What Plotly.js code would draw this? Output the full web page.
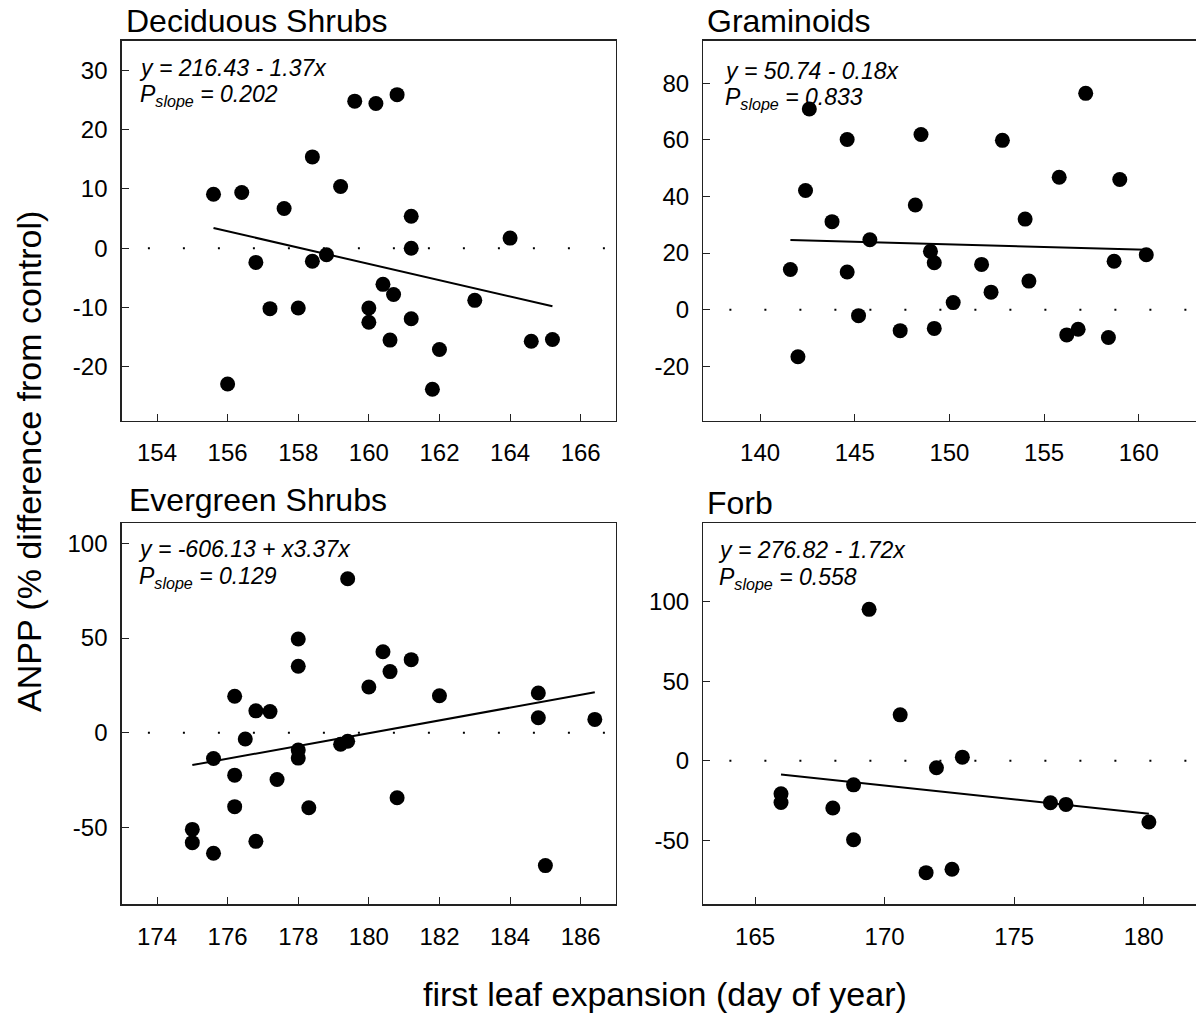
<!DOCTYPE html>
<html>
<head>
<meta charset="utf-8">
<script src="https://cdn.plot.ly/plotly-3.0.1.min.js"></script>
<style>html,body{margin:0;padding:0;background:#fff;}#chart{width:1196px;height:1016px;}</style>
</head>
<body>
<div id="chart"></div>
<script>
// ---- Data ----
const panelTitles = ["Deciduous Shrubs", "Graminoids", "Evergreen Shrubs", "Forb"];
const eqLines = ["y = 216.43 - 1.37x", "y = 50.74 - 0.18x", "y = -606.13 + x3.37x", "y = 276.82 - 1.72x"];
const pSlope = ["0.202", "0.833", "0.129", "0.558"];

const decidX = [155.6, 156.4, 156.0, 156.8, 157.2, 157.6, 158.0, 158.4, 158.4, 158.8, 159.2, 159.6, 160.2, 160.8, 161.2, 161.2, 164.0, 160.4, 160.7, 160.0, 160.0, 161.2, 160.6, 162.0, 161.8, 163.0, 164.6, 165.2];
const decidY = [9.1, 9.4, -22.9, -2.4, -10.2, 6.7, -10.1, 15.4, -2.2, -1.1, 10.4, 24.8, 24.4, 25.9, 5.4, 0.0, 1.7, -6.1, -7.8, -10.1, -12.5, -11.9, -15.5, -17.1, -23.8, -8.8, -15.7, -15.4];
const decidFitX = [155.6, 165.2];
const decidFitY = [3.4, -9.8];

const gramX = [142.6, 144.6, 142.4, 143.8, 145.8, 141.6, 144.6, 145.2, 142.0, 147.4, 148.5, 148.2, 149.0, 149.2, 149.2, 150.2, 151.7, 152.2, 152.8, 154.0, 154.2, 155.8, 157.2, 159.0, 156.2, 156.8, 158.4, 158.7, 160.4];
const gramY = [70.9, 60.1, 42.1, 31.1, 24.7, 14.2, 13.3, -2.1, -16.6, -7.4, 61.9, 37.0, 20.6, 16.6, -6.6, 2.5, 16.0, 6.2, 59.8, 32.0, 10.1, 46.8, 76.4, 46.0, -8.9, -6.9, -9.8, 17.1, 19.4];
const gramFitX = [141.6, 160.4];
const gramFitY = [24.6, 21.2];

const everX = [179.4, 178.0, 178.0, 176.2, 176.8, 177.2, 176.5, 175.6, 178.0, 178.0, 176.2, 177.4, 176.2, 178.3, 175.0, 175.0, 175.6, 176.8, 179.2, 179.4, 180.4, 181.2, 180.6, 180.0, 182.0, 184.8, 184.8, 186.4, 180.8, 185.0];
const everY = [81.3, 49.5, 35.1, 19.3, 11.6, 11.2, -3.2, -13.5, -9.1, -13.3, -22.3, -24.6, -38.9, -39.5, -50.9, -57.9, -63.5, -57.2, -6.0, -4.4, 42.8, 38.6, 32.3, 24.2, 19.6, 21.0, 8.0, 7.1, -34.2, -70.0];
const everFitX = [175.0, 186.4];
const everFitY = [-17.0, 21.4];

const forbX = [169.4, 170.6, 166.0, 166.0, 168.0, 168.8, 168.8, 171.6, 172.6, 172.0, 173.0, 176.4, 177.0, 180.2];
const forbY = [95.2, 28.9, -20.7, -26.2, -29.7, -15.1, -49.6, -70.3, -68.2, -4.4, 2.3, -26.4, -27.4, -38.5];
const forbFitX = [166.0, 180.2];
const forbFitY = [-8.6, -33.3];

// tick values and labels (hyphen minus as in the reference)
const xTickVals = [[154, 156, 158, 160, 162, 164, 166], [140, 145, 150, 155, 160], [174, 176, 178, 180, 182, 184, 186], [165, 170, 175, 180]];
const xTickText = [["154", "156", "158", "160", "162", "164", "166"], ["140", "145", "150", "155", "160"], ["174", "176", "178", "180", "182", "184", "186"], ["165", "170", "175", "180"]];
const yTickVals = [[-20, -10, 0, 10, 20, 30], [-20, 0, 20, 40, 60, 80], [-50, 0, 50, 100], [-50, 0, 50, 100]];
const yTickText = [["-20", "-10", "0", "10", "20", "30"], ["-20", "0", "20", "40", "60", "80"], ["-50", "0", "50", "100"], ["-50", "0", "50", "100"]];

const xTitle = "first leaf expansion (day of year)";
const yTitle = "ANPP (% difference from control)";

// ---- Layout geometry ----
const W = 1196, H = 1016;
const colX = [[121.7, 616], [703.3, 1195.5]];
const rowY = [[40.7, 420.7], [523.3, 904.3]];
const xRanges = [[153, 167], [137, 163], [173, 187], [163, 182]];
const yRanges = [[-29.1, 35], [-39.2, 95], [-90.4, 110.5], [-90.2, 149.3]];
const titleOffX = [2, 2, 5, 2];
const titleOffY = [20, 20, 23, 20];
const eqOffX = [15, 19, 14, 13];
const eq1Y = [27, 30, 26, 27];
const eq2Y = [55, 58, 54, 55];

const FONT = "Arial, 'Liberation Sans', sans-serif";
const dataSets = [[decidX, decidY, decidFitX, decidFitY], [gramX, gramY, gramFitX, gramFitY], [everX, everY, everFitX, everFitY], [forbX, forbY, forbFitX, forbFitY]];

const traces = [];
const layout = {
  width: W, height: H,
  margin: {l: 0, r: 0, t: 0, b: 0},
  paper_bgcolor: "#fff", plot_bgcolor: "#fff",
  showlegend: false,
  font: {family: FONT, color: "#000"},
  annotations: [], shapes: []
};

for (let i = 0; i < 4; i++) {
  const n = i + 1;
  const xa = n === 1 ? "x" : "x" + n, ya = n === 1 ? "y" : "y" + n;
  const xk = n === 1 ? "xaxis" : "xaxis" + n, yk = n === 1 ? "yaxis" : "yaxis" + n;
  const col = i % 2, row = Math.floor(i / 2);
  const [ds0, ds1, ds2, ds3] = dataSets[i];
  traces.push({x: ds0, y: ds1, xaxis: xa, yaxis: ya, type: "scatter", mode: "markers",
    marker: {size: 15, color: "#000"}, hoverinfo: "skip"});
  traces.push({x: ds2, y: ds3, xaxis: xa, yaxis: ya, type: "scatter", mode: "lines",
    line: {color: "#000", width: 2}, hoverinfo: "skip"});
  const common = {showline: true, mirror: true, linecolor: "#222", linewidth: 1.4,
    showgrid: false, zeroline: false, ticks: "inside", ticklen: 7, tickwidth: 1, tickcolor: "#222",
    tickfont: {family: FONT, size: 24, color: "#000"}, fixedrange: true, tickmode: "array"};
  layout[xk] = Object.assign({}, common, {
    domain: [colX[col][0] / W, colX[col][1] / W], range: xRanges[i],
    tickvals: xTickVals[i], ticktext: xTickText[i], anchor: ya, ticklabelstandoff: 10});
  layout[yk] = Object.assign({}, common, {
    domain: [1 - rowY[row][1] / H, 1 - rowY[row][0] / H], range: yRanges[i],
    tickvals: yTickVals[i], ticktext: yTickText[i], anchor: xa, ticklabelstandoff: 8});
  // dotted zero reference line
  layout.shapes.push({type: "line", xref: xa + " domain", yref: ya, x0: 0.053, x1: 1, y0: 0, y1: 0,
    line: {color: "#000", width: 2, dash: "2px,33px"}, layer: "below"});
  // panel title
  layout.annotations.push({xref: xa + " domain", yref: ya + " domain", x: 0, y: 1, xanchor: "left", yanchor: "middle",
    xshift: titleOffX[i], yshift: titleOffY[i], text: panelTitles[i], showarrow: false,
    font: {family: FONT, size: 32, color: "#000"}});
  // equation lines
  layout.annotations.push({xref: xa + " domain", yref: ya + " domain", x: 0, y: 1, xanchor: "left", yanchor: "middle",
    xshift: eqOffX[i], yshift: -eq1Y[i], text: "<i>" + eqLines[i] + "</i>", showarrow: false,
    font: {family: FONT, size: 23, color: "#000"}});
  layout.annotations.push({xref: xa + " domain", yref: ya + " domain", x: 0, y: 1, xanchor: "left", yanchor: "middle",
    xshift: eqOffX[i] + 1, yshift: -eq2Y[i], text: "<i>P<sub>slope</sub> = " + pSlope[i] + "</i>", showarrow: false,
    font: {family: FONT, size: 23, color: "#000"}});
}

layout.annotations.push({xref: "paper", yref: "paper", x: 665 / W, y: 1 - 994 / H, xanchor: "center", yanchor: "middle",
  text: xTitle, showarrow: false, font: {family: FONT, size: 34, color: "#000"}});
layout.annotations.push({xref: "paper", yref: "paper", x: 29 / W, y: 1 - 462 / H, xanchor: "center", yanchor: "middle",
  text: yTitle, textangle: -90, showarrow: false, font: {family: FONT, size: 34, color: "#000"}});

Plotly.newPlot("chart", traces, layout, {staticPlot: true, displayModeBar: false});
</script>
</body>
</html>
